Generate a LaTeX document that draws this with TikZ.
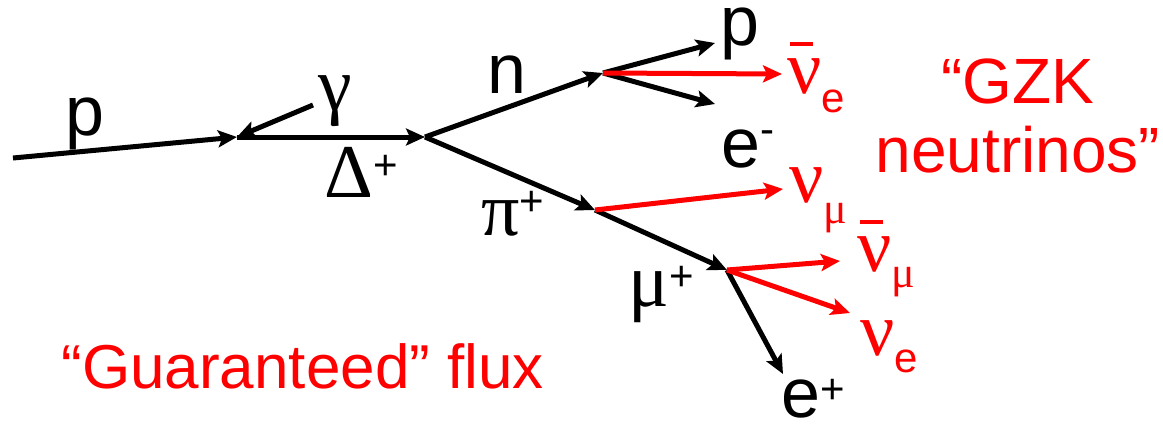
\documentclass[tikz,border=0pt]{standalone}
\usepackage{fontspec}
\setmainfont{Liberation Sans}
\newfontfamily\grfont{Liberation Serif}
\usetikzlibrary{arrows.meta}
\definecolor{gzkred}{RGB}{255,0,0}
\newcommand{\lblsize}{\fontsize{70}{70}\selectfont}
\newcommand{\grk}[1]{{\grfont\fontsize{76}{76}\selectfont #1}}
\newcommand{\supr}[2]{\raisebox{#1}{\fontsize{42}{42}\selectfont #2}}
\newcommand{\subl}[2]{\raisebox{-#1}{\fontsize{42}{42}\selectfont #2}}
\newcommand{\subg}[2]{\raisebox{-#1}{\grfont\fontsize{44}{44}\selectfont #2}}
\newcommand{\barnu}{\makebox[0pt][l]{\hspace{2pt}\raisebox{47pt}{\rule{23pt}{4pt}}}\grk{ν}}
\begin{document}
\begin{tikzpicture}[x=1pt,y=-1pt,
  line width=5pt,
  arr/.style={-{Stealth[length=19pt,width=17pt,inset=4pt]}},
  blk/.style={arr,draw=black},
  nuarr/.style={arr,draw=gzkred},
  lab/.style={inner sep=0pt,anchor=base west,font=\lblsize},
  redlab/.style={lab,text=gzkred}]
\useasboundingbox (0,0) rectangle (1163,424);
% vertices
\coordinate (s) at (13,158);
\coordinate (A) at (237,137);
\coordinate (g) at (313,105);
\coordinate (B) at (425,137);
\coordinate (C) at (603,73);
\coordinate (D) at (595,210);
\coordinate (E) at (727,270);
% free ends
\coordinate (pt) at (715,43);
\coordinate (nue) at (782,74);
\coordinate (em) at (715,104);
\coordinate (num) at (783,189);
\coordinate (nmb) at (840,261);
\coordinate (ne) at (850,313);
\coordinate (ep) at (783,374);
% black tracks
\draw[blk] (s) -- (A);
\draw[blk] (g) -- (A);
\draw[blk] (A) -- (B);
\draw[blk] (B) -- (C);
\draw[blk] (B) -- (D);
\draw[blk] (C) -- (pt);
\draw[blk] (C) -- (em);
\draw[blk] (D) -- (E);
\draw[blk] (E) -- (ep);
% red neutrinos
\draw[nuarr] (C) -- (nue);
\draw[nuarr] (D) -- (num);
\draw[nuarr] (E) -- (nmb);
\draw[nuarr] (E) -- (ne);
% labels
\node[lab] (lp) at (63,135) {p};
\node[lab] (lg) at (316,110) {\grk{γ}};
\node[lab] (lD) at (322,197) {\grk{Δ}\supr{18pt}{+}};
\node[lab] (ln) at (485,93) {n};
\node[lab] (lpi) at (479,235) {\grk{π}\supr{20pt}{+}};
\node[lab] (lmu) at (626,306) {\grk{μ}\supr{16pt}{+}};
\node[lab,text height=38pt] (lpt) at (718,45) {p};
\node[lab] (lem) at (719,167) {e\supr{24pt}{-}};
\node[lab,text depth=0pt] (lep) at (779,417) {e\supr{14pt}{+}};
\node[redlab] (lnue) at (785,93) {\barnu\subl{19pt}{e}};
\node[redlab] (lnum) at (787,202) {\grk{ν}\subg{21pt}{μ}};
\node[redlab] (lnmb) at (855,271) {\barnu\subg{16pt}{μ}};
\node[redlab] (lne) at (858,355) {\grk{ν}\subl{17pt}{e}};
\node[inner sep=0pt,anchor=base,align=center,text=gzkred,font=\fontsize{64}{69}\selectfont] (gzk) at (1018,172) {“GZK\\neutrinos”};
\node[inner sep=0pt,anchor=base west,text=gzkred,font=\fontsize{62}{66}\selectfont] (flux) at (59,388) {“Guaranteed” flux};
\end{tikzpicture}
\end{document}
